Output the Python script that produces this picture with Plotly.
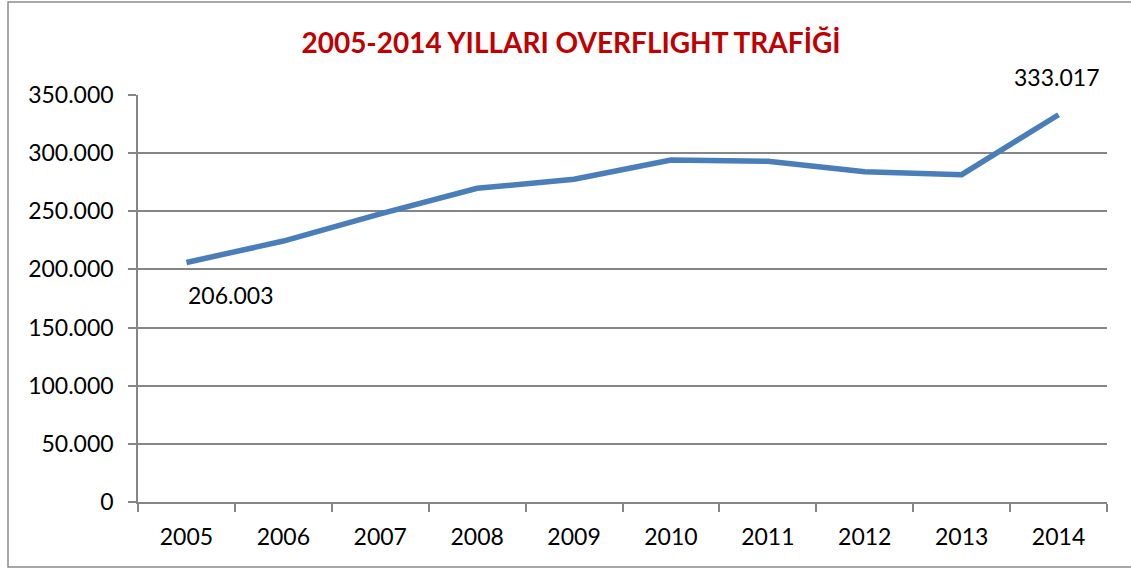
import plotly.graph_objects as go

# Data
years = ['2005', '2006', '2007', '2008', '2009', '2010', '2011', '2012', '2013', '2014']
flights = [206003, 224400, 247700, 269800, 277500, 294100, 293000, 284000, 281500, 333017]
y_ticks = [0, 50000, 100000, 150000, 200000, 250000, 300000, 350000]

W, H = 1131, 569
L, R, T, B = 138, 24, 95, 67
pw, ph = W - L - R, H - T - B


def fmt(v):
    return f'{v:,}'.replace(',', '.')


fig = go.Figure()
fig.add_trace(go.Scatter(x=years, y=flights, mode='lines',
                         line=dict(color='#4A7EBB', width=5.5),
                         hoverinfo='skip', showlegend=False))

# data labels on first and last points (category index for x)
first, last = 0, len(years) - 1
fig.add_annotation(x=first, y=flights[first], text=fmt(flights[first]),
                   showarrow=False, xshift=44, yshift=-33,
                   font=dict(size=23, color='black'))
fig.add_annotation(x=last, y=flights[last], text=fmt(flights[last]),
                   showarrow=False, xshift=-2, yshift=38,
                   font=dict(size=23, color='black'))

# outer chart frame
fig.add_shape(type='rect', xref='paper', yref='paper',
              x0=(8 - L) / pw, x1=(W + 5 - L) / pw,
              y0=(T + ph - 567) / ph, y1=(T + ph - 2) / ph,
              line=dict(color='#8C8C8C', width=1.5))

fig.update_xaxes(type='category', range=[-0.5, 9.5],
                 showline=True, linecolor='#868686', linewidth=1.5,
                 ticks='outside', tickson='boundaries', ticklen=8,
                 tickcolor='#868686', tickwidth=1.5, ticklabelstandoff=14,
                 showgrid=False, tickfont=dict(size=23, color='black'))
fig.update_yaxes(range=[0, 350000], tickvals=y_ticks, tickformat=',d',
                 showline=True, linecolor='#868686', linewidth=1.5,
                 ticks='outside', ticklen=8, tickcolor='#868686', tickwidth=1.5,
                 ticklabelstandoff=10,
                 showgrid=True, gridcolor='#868686', gridwidth=1.5,
                 zeroline=False, tickfont=dict(size=23, color='black'))

fig.update_layout(width=W, height=H,
                  margin=dict(l=L, r=R, t=T, b=B),
                  plot_bgcolor='white', paper_bgcolor='white',
                  separators=',.',
                  font=dict(family='Lato, Open Sans, sans-serif'),
                  title=dict(text='<b>2005-2014 YILLARI OVERFLIGHT TRAFİĞİ</b>',
                             x=571 / W, xanchor='center',
                             y=1 - 43 / H, yanchor='middle',
                             font=dict(size=28, color='#C00000')))

fig.write_html('out.html', config={'displayModeBar': False},
               post_script="document.body.style.margin='0';")
